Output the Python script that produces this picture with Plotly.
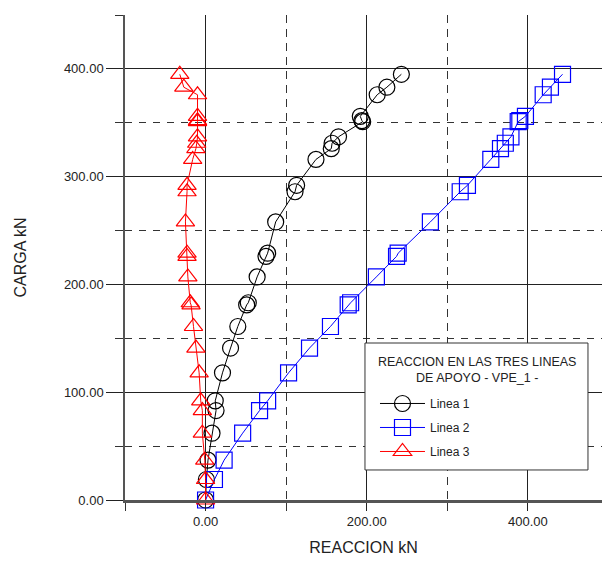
import plotly.graph_objects as go

# Shared load steps (kN)
carga = [0, 19, 37, 62, 83, 92, 118, 141, 161, 181, 183, 207, 226, 229, 258,
         286, 292, 316, 326, 331, 337, 351, 352, 356, 376, 383, 395]

# Reactions (kN) for each support line
linea1 = [0, 1, 3, 8, 13, 12, 21, 31, 40, 51, 53, 64, 75, 77, 87,
          111, 113, 137, 156, 157, 165, 195, 194, 192, 213, 225, 243]
linea2 = [0, 11, 23, 46, 67, 77, 103, 129, 155, 177, 180, 212, 237, 239, 279,
          316, 325, 354, 366, 372, 379, 388, 390, 397, 419, 428, 443]
linea3 = [0, 0, -1, -4, -4, -6, -8, -12, -15, -18, -19, -22, -23, -23, -25,
          -23, -23, -16, -12, -11, -10, -10, -10, -10, -10, -27, -32]

names = ["Linea 1", "Linea 2", "Linea 3"]
colors = ["#000000", "#0000ff", "#ff0000"]
symbols = ["circle-open", "square-open", "triangle-up-open"]
series = [linea1, linea2, linea3]
legend_title = "REACCION EN LAS TRES LINEAS<br>DE APOYO - VPE_1 -"

FONT = "Liberation Sans, Arial, sans-serif"
TXT = "#222222"

fig = go.Figure()
for name, xs, col, sym in zip(names, series, colors, symbols):
    fig.add_trace(go.Scatter(
        x=xs, y=carga, name=name, mode="lines+markers", legendgroup=name,
        line=dict(color=col, width=1),
        marker=dict(symbol=sym, size=16, color=col, line=dict(width=1.2, color=col)),
        cliponaxis=False,
    ))

grid_major = "#222222"
grid_minor = "#333333"

# legend frame (paper coords)
fig.add_shape(type="rect", xref="paper", yref="paper",
              x0=0.5031, x1=0.9706, y0=0.0619, y1=0.3237,
              fillcolor="white", line=dict(color="#333333", width=1), layer="above")
fig.add_annotation(xref="paper", yref="paper", x=0.737, y=0.268,
                   text=legend_title, showarrow=False, align="center",
                   xanchor="center", yanchor="middle",
                   font=dict(family=FONT, size=12.5, color=TXT))

fig.update_layout(
    width=602, height=561,
    margin=dict(l=125, r=0, t=15, b=61),
    paper_bgcolor="white", plot_bgcolor="white",
    font=dict(family=FONT, size=13, color=TXT),
    showlegend=True,
    legend=dict(
        x=0.5241, y=0.2289, xanchor="left", yanchor="top",
        bgcolor="rgba(0,0,0,0)", borderwidth=0,
        font=dict(family=FONT, size=12, color=TXT),
        traceorder="grouped",
        itemwidth=45,
        tracegroupgap=5,
    ),
    xaxis=dict(
        range=[-100, 492], tick0=0, dtick=200, tickformat=".2f",
        showgrid=True, gridcolor=grid_major, gridwidth=1,
        ticks="outside", ticklen=8, tickcolor=grid_major,
        zeroline=False,
        showline=True, linecolor="#555555", linewidth=2.5,
        minor=dict(dtick=100, tick0=0, showgrid=True, griddash="8px,6px",
                   gridcolor=grid_minor, gridwidth=1, ticks="outside", ticklen=8,
                   tickcolor=grid_minor),
        title=dict(text="REACCION kN", font=dict(family=FONT, size=16, color=TXT), standoff=14),
        tickfont=dict(family=FONT, size=13, color=TXT),
    ),
    yaxis=dict(
        range=[0, 450], tick0=0, dtick=100, tickformat=".2f",
        showgrid=True, gridcolor=grid_major, gridwidth=1,
        ticks="outside", ticklen=17, tickcolor=grid_major,
        zeroline=False,
        showline=True, linecolor="#555555", linewidth=1.5,
        minor=dict(dtick=50, tick0=0, showgrid=True, griddash="7px,7px",
                   gridcolor=grid_minor, gridwidth=1, ticks="outside", ticklen=8,
                   tickcolor=grid_minor),
        title=dict(text="CARGA kN", font=dict(family=FONT, size=16, color=TXT), standoff=33),
        tickfont=dict(family=FONT, size=13, color=TXT),
    ),
)

fig.write_html("out.html")
